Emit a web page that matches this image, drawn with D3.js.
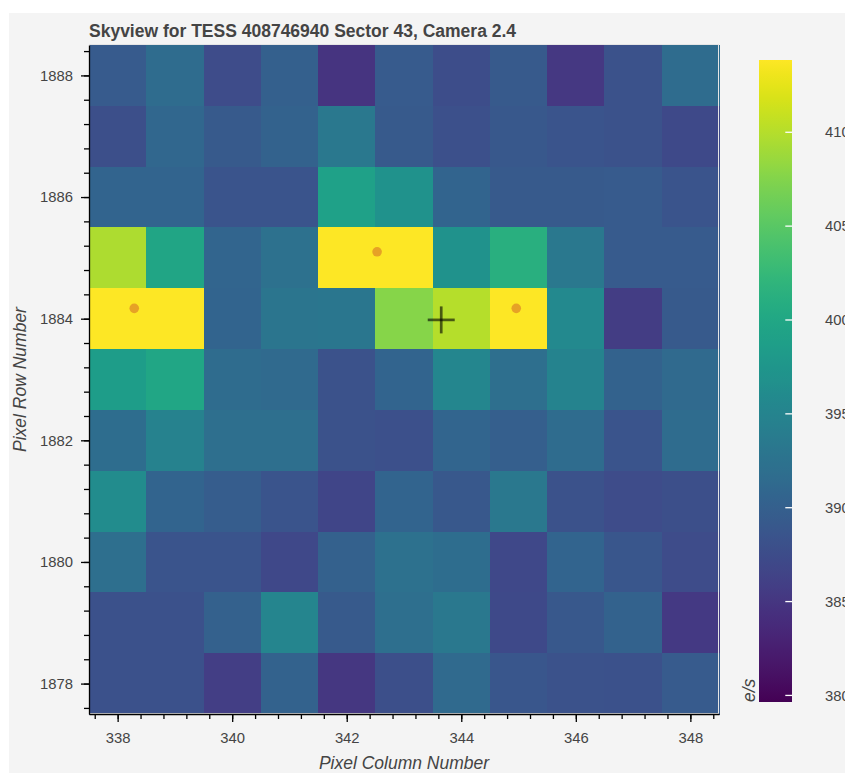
<!DOCTYPE html>
<html>
<head>
<meta charset="utf-8">
<script src="https://cdn.jsdelivr.net/npm/d3@7"></script>
<style>
  html, body { margin: 0; padding: 0; background: #ffffff; }
  svg { display: block; }
  text { font-family: "Liberation Sans", Arial, Helvetica, sans-serif; }
</style>
</head>
<body>
<svg id="chart" width="845" height="773"></svg>
<script>
// Pixel grid of the TESS cutout
const columns = [338, 339, 340, 341, 342, 343, 344, 345, 346, 347, 348];
const rows = [1888, 1887, 1886, 1885, 1884, 1883, 1882, 1881, 1880, 1879, 1878];

// Mean flux per pixel (e/s), one array per row, top row first
const flux = [
  [389.3, 391.6, 387.5, 390.0, 384.8, 389.3, 387.6, 389.2, 385.2, 388.2, 391.6],
  [387.9, 391.0, 389.2, 390.3, 393.3, 389.2, 388.0, 388.9, 388.5, 388.3, 387.2],
  [390.6, 390.6, 388.6, 388.6, 399.1, 397.1, 390.5, 389.2, 389.2, 389.3, 388.6],
  [409.7, 399.8, 390.7, 392.3, 418.5, 416.2, 397.1, 401.2, 393.4, 389.3, 389.3],
  [420.4, 415.0, 390.6, 393.0, 393.1, 407.7, 410.1, 414.5, 395.7, 385.7, 389.2],
  [398.5, 399.9, 391.6, 391.3, 388.2, 390.6, 395.4, 392.0, 395.0, 390.3, 391.3],
  [391.7, 394.7, 392.0, 392.0, 388.3, 388.0, 390.7, 389.9, 391.6, 388.6, 391.6],
  [396.1, 390.6, 389.6, 388.6, 386.6, 390.6, 389.0, 393.3, 388.3, 387.5, 387.9],
  [392.0, 388.5, 388.5, 387.1, 390.2, 392.3, 391.8, 387.1, 390.6, 388.8, 387.5],
  [388.1, 388.1, 390.2, 395.2, 389.2, 392.0, 393.4, 387.2, 389.0, 390.3, 385.3],
  [388.1, 388.1, 385.8, 390.3, 385.1, 387.8, 391.3, 388.8, 388.3, 388.1, 389.3]
];

// Colour mapper limits (e/s)
const fluxLow = 379.65;
const fluxHigh = 413.85;

// Nearby catalogue sources and the target position
const starColumn = [338.29, 342.53, 344.96];
const starRow = [1884.17, 1885.10, 1884.17];
const targetColumn = [343.65];
const targetRow = [1883.98];

// Tick values
const xTicks = [338, 340, 342, 344, 346, 348];
const yTicks = [1878, 1880, 1882, 1884, 1886, 1888];
const colorTicks = [380, 385, 390, 395, 400, 405, 410];

const titleText = "Skyview for TESS 408746940 Sector 43, Camera 2.4";

const svg = d3.select("#chart");
const W = 845, H = 773;
const frame = { left: 89, right: 719, top: 45, bottom: 714 };

// figure background
svg.append("rect")
  .attr("x", 9).attr("y", 13)
  .attr("width", W - 9).attr("height", H - 13)
  .attr("fill", "#f4f4f4");

const x = d3.scaleLinear().domain([337.5, 348.5]).range([frame.left, frame.right]);
const y = d3.scaleLinear().domain([1877.5, 1888.5]).range([frame.bottom, frame.top]);
const color = d3.scaleSequential(d3.interpolateViridis).domain([fluxLow, fluxHigh]).clamp(true);

// heatmap cells
const cells = [];
rows.forEach((r, i) => columns.forEach((c, j) => cells.push({ c, r, v: flux[i][j] })));

svg.append("g")
  .selectAll("rect")
  .data(cells)
  .join("rect")
  .attr("x", d => x(d.c - 0.5))
  .attr("y", d => y(d.r + 0.5))
  .attr("width", d => x(d.c + 0.5) - x(d.c - 0.5) + 0.5)
  .attr("height", d => y(d.r - 0.5) - y(d.r + 0.5) + 0.5)
  .attr("fill", d => color(d.v))
  .attr("shape-rendering", "crispEdges");

// frame outline
svg.append("rect")
  .attr("x", frame.left + 0.5).attr("y", frame.top - 0.5)
  .attr("width", frame.right - frame.left - 1).attr("height", frame.bottom - frame.top)
  .attr("fill", "none").attr("stroke", "#e5e5e5").attr("stroke-width", 1);

// catalogue sources
svg.append("g")
  .selectAll("circle")
  .data(starColumn.map((c, i) => ({ c, r: starRow[i] })))
  .join("circle")
  .attr("cx", d => x(d.c))
  .attr("cy", d => y(d.r))
  .attr("r", 4.8)
  .attr("fill", "#e6a226");

// target cross
const cross = svg.append("g");
targetColumn.forEach((c, i) => {
  const cx = x(c), cy = y(targetRow[i]), h = 13.5;
  cross.append("line").attr("x1", cx - h).attr("x2", cx + h).attr("y1", cy).attr("y2", cy)
    .attr("stroke", "#000").attr("stroke-opacity", 0.6).attr("stroke-width", 2.7);
  cross.append("line").attr("x1", cx).attr("x2", cx).attr("y1", cy - h).attr("y2", cy + h)
    .attr("stroke", "#000").attr("stroke-opacity", 0.6).attr("stroke-width", 2.7);
});

// axes
const tickColor = "#444444";
function minorTicks(domain) {
  const out = [];
  const start = Math.ceil(domain[0] / 0.4) * 0.4;
  for (let v = start; v <= domain[1] + 1e-9; v += 0.4) out.push(+v.toFixed(1));
  return out;
}

const xAxisG = svg.append("g").attr("transform", `translate(0,${frame.bottom})`);
xAxisG.append("g")
  .call(d3.axisBottom(x).tickValues(minorTicks(x.domain())).tickSize(5).tickFormat(""))
  .call(g => g.select(".domain").remove());
xAxisG.append("g")
  .call(d3.axisBottom(x).tickValues(xTicks).tickSize(8).tickSizeOuter(0).tickPadding(10)
    .tickFormat(d3.format("d")))
  .call(g => g.select(".domain").attr("stroke", "#000").attr("stroke-width", 1.3))
  .call(g => g.selectAll(".tick text").attr("fill", tickColor).attr("font-size", "14.8px")
    .attr("font-family", "Liberation Sans, Arial, sans-serif"));
xAxisG.selectAll(".tick line").attr("stroke", "#000").attr("stroke-width", 1.3);

const yAxisG = svg.append("g").attr("transform", `translate(${frame.left},0)`);
yAxisG.append("g")
  .call(d3.axisLeft(y).tickValues(minorTicks(y.domain())).tickSize(5).tickFormat(""))
  .call(g => g.select(".domain").remove());
yAxisG.append("g")
  .call(d3.axisLeft(y).tickValues(yTicks).tickSize(8).tickSizeOuter(0).tickPadding(8)
    .tickFormat(d3.format("d")))
  .call(g => g.select(".domain").attr("stroke", "#000").attr("stroke-width", 1.3))
  .call(g => g.selectAll(".tick text").attr("fill", tickColor).attr("font-size", "14.8px")
    .attr("font-family", "Liberation Sans, Arial, sans-serif"));
yAxisG.selectAll(".tick line").attr("stroke", "#000").attr("stroke-width", 1.3);

// axis titles
svg.append("text")
  .attr("x", (frame.left + frame.right) / 2).attr("y", 769)
  .attr("text-anchor", "middle").attr("font-style", "italic")
  .attr("font-size", "17.5px").attr("fill", tickColor)
  .text("Pixel Column Number");

svg.append("text")
  .attr("transform", `translate(26,${(frame.top + frame.bottom) / 2}) rotate(-90)`)
  .attr("text-anchor", "middle").attr("font-style", "italic")
  .attr("font-size", "17.5px").attr("fill", tickColor)
  .text("Pixel Row Number");

// title
svg.append("text")
  .attr("x", frame.left).attr("y", 37)
  .attr("font-weight", "bold").attr("font-size", "17.5px").attr("fill", tickColor)
  .text(titleText);

// colour bar
const bar = { x: 759, w: 33, top: 60, bottom: 702 };
const cbScale = d3.scaleLinear().domain([fluxLow, fluxHigh]).range([bar.bottom, bar.top]);
const defs = svg.append("defs");
const grad = defs.append("linearGradient").attr("id", "viridisBar")
  .attr("x1", 0).attr("y1", 1).attr("x2", 0).attr("y2", 0);
d3.range(0, 1.0001, 0.02).forEach(t => {
  grad.append("stop").attr("offset", t).attr("stop-color", d3.interpolateViridis(t));
});
svg.append("rect")
  .attr("x", bar.x).attr("y", bar.top)
  .attr("width", bar.w).attr("height", bar.bottom - bar.top)
  .attr("fill", "url(#viridisBar)");

const cbG = svg.append("g");
cbG.selectAll("line")
  .data(colorTicks)
  .join("line")
  .attr("x1", bar.x + bar.w - 6.7).attr("x2", bar.x + bar.w)
  .attr("y1", d => cbScale(d)).attr("y2", d => cbScale(d))
  .attr("stroke", "#ffffff").attr("stroke-width", 1.3);
cbG.selectAll("text")
  .data(colorTicks)
  .join("text")
  .attr("x", 825).attr("y", d => cbScale(d))
  .attr("dy", "0.35em")
  .attr("font-size", "14.8px").attr("fill", tickColor)
  .text(d => d);

svg.append("text")
  .attr("transform", `translate(755,${bar.bottom}) rotate(-90)`)
  .attr("font-style", "italic").attr("font-size", "17.5px").attr("fill", tickColor)
  .text("e/s");
</script>
</body>
</html>
